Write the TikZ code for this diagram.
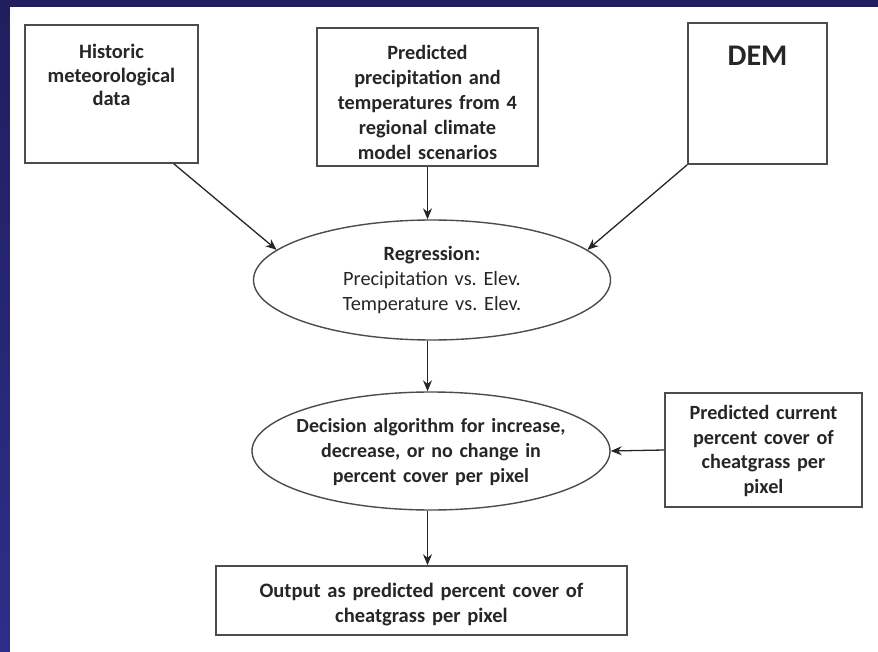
\documentclass[tikz,border=0pt]{standalone}
\usepackage{fontspec}
\setmainfont{Carlito}
\usetikzlibrary{shapes.geometric,arrows.meta}
\definecolor{navytop}{RGB}{32,30,94}
\definecolor{navybot}{RGB}{46,46,138}
\newcommand\boxfont[2]{\fontsize{#1}{#2}\selectfont\bfseries}
\begin{document}
\begin{tikzpicture}[x=1pt,y=-1pt,
box/.style={draw=black!70,line width=1.6pt,inner sep=0pt},
oval/.style={ellipse,draw=black!70,line width=1.4pt,inner sep=0pt},
txt/.style={align=center,inner sep=0pt,text=black!85,font=\boxfont{20}{25}},
arr/.style={-{Stealth[length=11pt,width=9pt]},line width=1.3pt,black!85}]
\useasboundingbox (0,0) rectangle (878,652);
\shade[top color=navytop,bottom color=navybot] (0,0) rectangle (878,652);
\fill[white] (10,7) rectangle (878,652);
\node[box,minimum width=173pt,minimum height=138pt,
  label={[txt,text width=170pt,anchor=north,yshift=-20pt,font=\boxfont{20.5}{23.5}]north:Historic\\meteorological\\data}] (hist) at (111.5,94) {};
\node[box,minimum width=221pt,minimum height=138pt,
  label={[txt,text width=218pt,anchor=north,yshift=-18pt,font=\boxfont{20.3}{25}]north:Predicted\\precipitation and\\temperatures from 4\\regional climate\\model scenarios}] (pred) at (427.5,97) {};
\node[box,minimum width=139pt,minimum height=141pt,
  label={[txt,text width=135pt,anchor=north,yshift=-24pt,font=\boxfont{30}{32}]north:DEM}] (dem) at (757.5,93.5) {};
\node[oval,minimum width=357pt,minimum height=120pt,
  label={[txt,text width=340pt,font=\fontsize{20.3}{25}\selectfont]center:\textbf{Regression:}\\Precipitation vs.\ Elev.\\Temperature vs.\ Elev.}] (reg) at (432,280) {};
\node[oval,minimum width=358pt,minimum height=118pt,
  label={[txt,text width=340pt,yshift=-1pt,font=\boxfont{20}{25}]center:Decision algorithm for increase,\\decrease, or no change in\\percent cover per pixel}] (dec) at (431,451) {};
\node[box,minimum width=197pt,minimum height=114pt,
  label={[txt,text width=194pt,anchor=north,yshift=-13pt,font=\boxfont{20.2}{24.5}]north:Predicted current\\percent cover of\\cheatgrass per\\pixel}] (cur) at (763.5,450) {};
\node[box,minimum width=411pt,minimum height=69pt,
  label={[txt,text width=405pt,yshift=-4pt,font=\boxfont{20.5}{25}]center:Output as predicted percent cover of\\cheatgrass per pixel}] (out) at (421.5,600.5) {};
\draw[arr] ([xshift=-25pt]hist.south east) -- (reg.169);
\draw[arr] (pred.south) -- (pred.south |- reg.north);
\draw[arr] (dem.south west) -- (reg.11);
\draw[arr] (pred.south |- reg.south) -- (pred.south |- dec.north);
\draw[arr] (cur.west) -- (dec.east);
\draw[arr] (pred.south |- dec.south) -- (pred.south |- out.north);
\end{tikzpicture}
\end{document}
